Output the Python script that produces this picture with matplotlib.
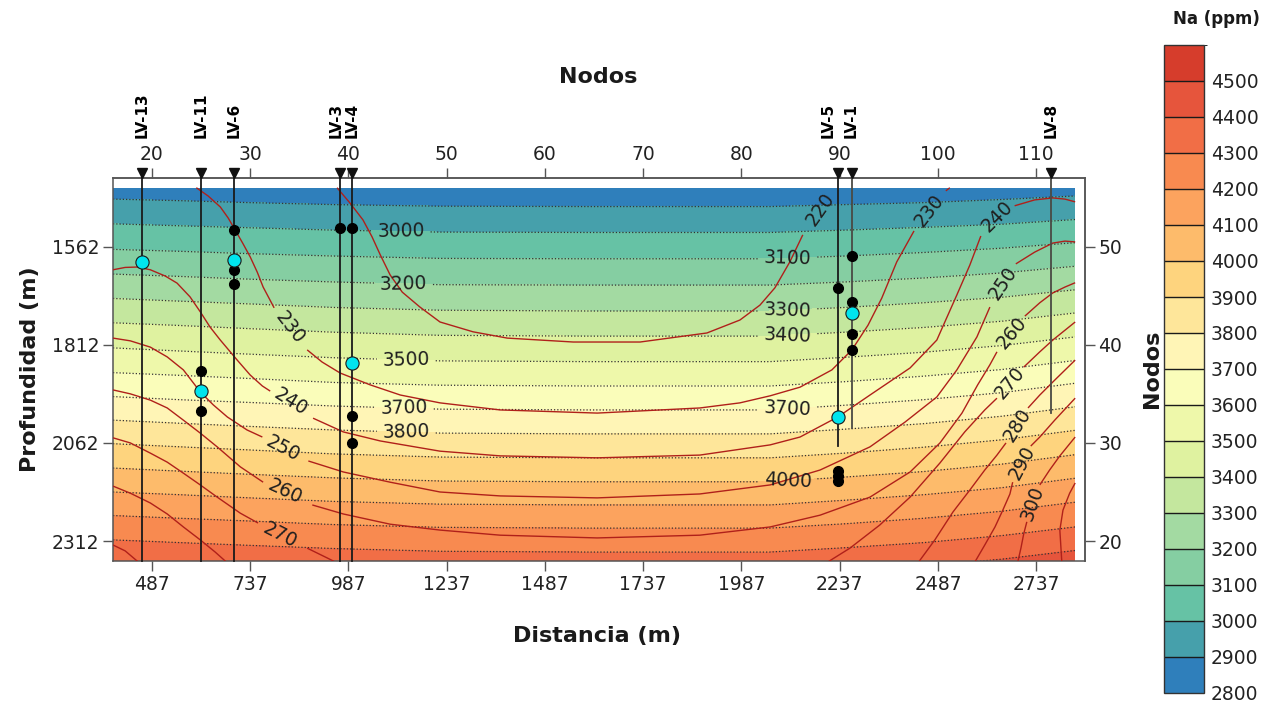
import numpy as np
import matplotlib
matplotlib.use("Agg")
import matplotlib.pyplot as plt
from matplotlib.colors import ListedColormap, BoundaryNorm
from matplotlib.patches import Rectangle

# --- Na (ppm): depth of every 100 ppm isoline at stations along the section ---
na_levels = [2800, 2900, 3000, 3100, 3200, 3300, 3400, 3500, 3600,
             3700, 3800, 3900, 4000, 4100, 4200, 4300, 4400, 4500]
na_stations = [388, 560, 737, 950, 1220, 1600, 2059, 2250, 2450, 2650, 2836]
na_depths = [
    [1375, 1379, 1384, 1389, 1393, 1394, 1394, 1390, 1385, 1378, 1369],
    [1441, 1445, 1450, 1455, 1459, 1460, 1460, 1455, 1450, 1442, 1433],
    [1504, 1509, 1514, 1520, 1525, 1526, 1526, 1520, 1513, 1505, 1493],
    [1569, 1574, 1580, 1586, 1592, 1593, 1593, 1586, 1577, 1566, 1552],
    [1632, 1638, 1645, 1652, 1659, 1660, 1660, 1652, 1642, 1629, 1612],
    [1694, 1701, 1708, 1717, 1724, 1726, 1726, 1717, 1705, 1691, 1672],
    [1756, 1763, 1771, 1780, 1788, 1790, 1790, 1780, 1768, 1752, 1731],
    [1820, 1828, 1836, 1845, 1853, 1855, 1855, 1844, 1831, 1814, 1792],
    [1883, 1890, 1898, 1908, 1915, 1917, 1917, 1906, 1892, 1875, 1852],
    [1944, 1952, 1959, 1968, 1976, 1978, 1978, 1966, 1952, 1934, 1910],
    [2004, 2012, 2020, 2029, 2037, 2039, 2039, 2027, 2013, 1994, 1970],
    [2064, 2072, 2080, 2090, 2098, 2100, 2100, 2088, 2073, 2054, 2030],
    [2126, 2134, 2142, 2151, 2159, 2161, 2161, 2149, 2135, 2116, 2092],
    [2187, 2194, 2202, 2211, 2218, 2220, 2220, 2208, 2194, 2176, 2152],
    [2247, 2254, 2261, 2270, 2277, 2279, 2279, 2268, 2254, 2236, 2213],
    [2309, 2316, 2323, 2331, 2338, 2340, 2340, 2329, 2316, 2298, 2276],
    [2369, 2376, 2383, 2391, 2398, 2400, 2400, 2389, 2376, 2358, 2336],
    [2429, 2436, 2443, 2451, 2458, 2460, 2460, 2449, 2436, 2418, 2396],
]
na_line_levels = [2900, 3000, 3100, 3200, 3300, 3400, 3500, 3600, 3700,
                  3800, 3900, 4000, 4100, 4200, 4300, 4400]
# where the Na labels sit (distance, depth)
na_label_pos = [(1121, 1526), (1127, 1660), (1134, 1855), (1129, 1978), (1134, 2039),
                (2105, 1591), (2105, 1724), (2105, 1788), (2105, 1976), (2105, 2159)]

cbar_bounds = [2800, 2900, 3000, 3100, 3200, 3300, 3400, 3500, 3600, 3700,
               3800, 3900, 4000, 4100, 4200, 4300, 4400, 4500, 4600]
cbar_ticks = cbar_bounds[:-1]
na_colors = ["#2f7fbb", "#46a0ab", "#66c2a5", "#85cea2", "#a3daa2", "#c4e79e",
             "#dff2a0", "#eef8aa", "#fafdba", "#fff5b6", "#fee69a", "#fed47e",
             "#fdbb6b", "#fca35e", "#f88a50", "#f16e46", "#e6553c", "#d63d2c"]

# --- temperature isotherms (deg C), traced as (distance, depth) segments ---
iso220 = [
    [(958, 1412), (991, 1451), (1024, 1494), (1047, 1537), (1068, 1583), (1093, 1634),
     (1124, 1678), (1169, 1716), (1220, 1754), (1304, 1779), (1391, 1795), (1559, 1805),
     (1729, 1805), (1899, 1782), (1983, 1749), (2034, 1711), (2072, 1667), (2110, 1601),
     (2143, 1532)],
]
iso230 = [
    [(600, 1412), (630, 1433), (661, 1461), (681, 1489), (699, 1520), (719, 1555),
     (737, 1588), (755, 1627), (770, 1665), (798, 1718)],
    [(882, 1825), (920, 1856), (966, 1884), (1042, 1914), (1119, 1940), (1220, 1960),
     (1373, 1978), (1620, 1986), (1881, 1973), (1983, 1960), (2060, 1942), (2136, 1920),
     (2217, 1876), (2268, 1825), (2309, 1762), (2344, 1693), (2382, 1601), (2426, 1522)],
    [(2507, 1420), (2517, 1412)],
]
iso240 = [
    [(388, 1621), (419, 1615), (450, 1614), (483, 1621), (521, 1637), (551, 1655),
     (584, 1690), (610, 1728), (635, 1767), (661, 1800), (704, 1851), (737, 1889),
     (768, 1917), (788, 1930)],
    [(897, 1999), (974, 2034), (1068, 2057), (1220, 2083), (1373, 2095), (1620, 2100),
     (1881, 2093), (2060, 2067), (2136, 2047), (2232, 1996), (2314, 1940), (2416, 1871),
     (2484, 1800), (2535, 1685), (2568, 1609), (2596, 1535)],
    [(2682, 1458), (2733, 1443), (2779, 1438), (2810, 1441), (2836, 1448)],
]
iso250 = [
    [(388, 1795), (432, 1802), (483, 1818), (526, 1843), (567, 1876), (610, 1932),
     (643, 1965), (679, 1996), (729, 2029), (768, 2047)],
    [(885, 2108), (974, 2136), (1093, 2162), (1220, 2187), (1373, 2197), (1620, 2202),
     (1881, 2192), (2060, 2169), (2187, 2131), (2314, 2072), (2403, 2009), (2484, 1945),
     (2535, 1876), (2586, 1792), (2619, 1716)],
    [(2685, 1606), (2733, 1576), (2779, 1553), (2810, 1548), (2836, 1550)],
]
iso260 = [
    [(388, 1927), (432, 1937), (483, 1953), (526, 1973), (567, 2004), (610, 2037),
     (653, 2072), (712, 2123), (770, 2162)],
    [(895, 2220), (974, 2243), (1093, 2269), (1220, 2284), (1373, 2297), (1620, 2304),
     (1881, 2297), (2060, 2276), (2187, 2246), (2314, 2200), (2416, 2136), (2492, 2062),
     (2548, 1986), (2588, 1914), (2619, 1863), (2637, 1830)],
    [(2708, 1739), (2746, 1705), (2779, 1680), (2810, 1665), (2836, 1654)],
]
iso270 = [
    [(388, 2049), (432, 2062), (483, 2088), (526, 2111), (567, 2139), (610, 2169),
     (653, 2200), (712, 2241), (757, 2266)],
    [(882, 2330), (933, 2355), (953, 2365)],
    [(2207, 2365), (2263, 2330), (2339, 2271), (2416, 2200), (2492, 2113), (2555, 2034),
     (2606, 1978), (2637, 1948)],
    [(2705, 1869), (2746, 1830), (2779, 1800), (2836, 1754)],
]
iso280 = [
    [(388, 2172), (432, 2190), (483, 2215), (526, 2243), (567, 2276), (610, 2309),
     (648, 2340), (676, 2365)],
    [(2438, 2365), (2479, 2309), (2525, 2238), (2568, 2182), (2606, 2131), (2637, 2093),
     (2660, 2062)],
    [(2716, 1973), (2746, 1940), (2784, 1902), (2836, 1851)],
]
iso290 = [
    [(388, 2322), (419, 2337), (452, 2365)],
    [(2581, 2365), (2606, 2322), (2632, 2276), (2652, 2233), (2670, 2192), (2677, 2162)],
    [(2723, 2070), (2746, 2047), (2784, 2004), (2836, 1948)],
]
iso300 = [
    [(2690, 2365), (2698, 2330), (2705, 2294), (2713, 2263)],
    [(2746, 2169), (2771, 2131), (2797, 2095), (2836, 2047)],
]
iso310 = [
    [(2802, 2365), (2797, 2284), (2805, 2233), (2822, 2190), (2836, 2164)],
]
isotherms = [iso220, iso230, iso240, iso250, iso260, iso270, iso280, iso290, iso300, iso310]

# (value, distance, depth, angle)
t_labels = [(220, 2187, 1466, 55), (230, 839, 1769, -52), (230, 2466, 1469, 52),
            (240, 839, 1958, -32), (240, 2637, 1486, 45), (250, 821, 2075, -28),
            (250, 2652, 1655, 56), (260, 826, 2187, -25), (260, 2675, 1782, 50),
            (270, 813, 2297, -27), (270, 2670, 1909, 50), (280, 2688, 2016, 58),
            (290, 2700, 2113, 62), (300, 2728, 2215, 70)]

# --- wells ---
well_names = ["LV-13", "LV-11", "LV-6", "LV-3", "LV-4", "LV-5", "LV-1", "LV-8"]
well_x = [462, 612, 697, 966, 996, 2233, 2267, 2774]
well_bottom = [2362, 2362, 2362, 2362, 2362, 2070, 2023, 1986]
well_colors = ["#1a1a1a"] * 6 + ["#4a4a44", "#4a4a44"]
well_label_shift = [0, 0, 0, -3, 0, -7, 0, 0]

black_x = [612, 612, 697, 697, 697, 966, 996, 996, 996, 2233, 2233, 2233, 2233,
           2267, 2267, 2267, 2267]
black_z = [1880, 1980, 1519, 1621, 1657, 1515, 1515, 1993, 2061, 1668, 2134, 2147, 2160,
           1587, 1702, 1784, 1825]
cyan_x = [462, 612, 697, 996, 2233, 2267]
cyan_z = [1600, 1931, 1596, 1858, 1995, 1730]

x_ticks = [487, 737, 987, 1237, 1487, 1737, 1987, 2237, 2487, 2737]
y_ticks = [1562, 1812, 2062, 2312]
top_node_ticks = [20, 30, 40, 50, 60, 70, 80, 90, 100, 110]
right_node_ticks = [20, 30, 40, 50]

fig = plt.figure(figsize=(12.75, 7.05), dpi=100)
ax = fig.add_axes([113 / 1275, 1 - 560.7 / 705, 972 / 1275, 382.4 / 705])

cmap = ListedColormap(na_colors)
norm = BoundaryNorm(cbar_bounds, cmap.N)

X = np.tile(np.array(na_stations, float), (len(na_levels), 1))
Y = np.array(na_depths, float)
Z = np.repeat(np.array(na_levels, float)[:, None], len(na_stations), axis=1)

clip = Rectangle((388, 1412), 2836 - 388, 2362 - 1412, transform=ax.transData)
cf = ax.contourf(X, Y, Z, levels=cbar_bounds, cmap=cmap, norm=norm, zorder=1)
cf.set_clip_path(clip)
cl = ax.contour(X, Y, Z, levels=na_line_levels, colors="#333333",
                linewidths=0.9, linestyles=[(0, (1, 1.6))], zorder=2)
cl.set_clip_path(clip)
ax.clabel(cl, manual=na_label_pos, inline=True, inline_spacing=6,
          fontsize=13.5, fmt="%d", colors="#1f1f1f")

for iso in isotherms:
    for seg in iso:
        xs = [p[0] for p in seg]
        zs = [p[1] for p in seg]
        ax.plot(xs, zs, color="#b0201a", lw=1.0, zorder=3, solid_capstyle="butt")
for val, lx, lz, ang in t_labels:
    ax.text(lx, lz, str(val), fontsize=13.5, color="#1f1f1f", rotation=ang,
            rotation_mode="anchor", ha="center", va="center", zorder=6)

for name, wx, wb, wc, sh in zip(well_names, well_x, well_bottom, well_colors, well_label_shift):
    ax.plot([wx, wx], [1374, wb], color=wc, lw=1.3, zorder=4, clip_on=False)
    ax.plot([wx], [1374], marker="v", color="#111111", ms=7, zorder=5, clip_on=False)
    ax.annotate(name, xy=(wx, 1.105), xycoords=ax.get_xaxis_transform(),
                xytext=(sh, 0), textcoords="offset points", rotation=90,
                ha="center", va="bottom", fontsize=11, fontweight="bold",
                annotation_clip=False)

ax.plot(black_x, black_z, "o", color="black", ms=7, zorder=7, ls="none")
ax.plot(cyan_x, cyan_z, "o", mfc="#00e5ee", mec="#1a1a1a", mew=0.8, ms=9.5, zorder=8, ls="none")

ax.set_xlim(388, 2861)
ax.set_ylim(2362, 1388)
ax.set_xticks(x_ticks)
ax.set_yticks(y_ticks)
ax.tick_params(direction="out", length=7.5, width=1.0, color="#555555",
               labelsize=13.5, labelcolor="#222222", pad=2.5)
for sp in ax.spines.values():
    sp.set_color("#555555")
    sp.set_linewidth(1.1)

top = ax.secondary_xaxis("top", functions=(lambda d: 20 + (d - 487) / 25.0,
                                          lambda n: 487 + 25.0 * (n - 20)))
top.set_xticks(top_node_ticks)
top.tick_params(direction="out", length=7.5, width=1.0, color="#555555",
                labelsize=13.5, labelcolor="#222222", pad=3)
right = ax.secondary_yaxis("right", functions=(lambda z: 50 - (z - 1562) / 25.0,
                                              lambda n: 1562 + 25.0 * (50 - n)))
right.set_yticks(right_node_ticks)
right.tick_params(direction="out", length=7.5, width=1.0, color="#555555",
                  labelsize=13.5, labelcolor="#222222", pad=2)
for sec in (top, right):
    for sp in sec.spines.values():
        sp.set_color("#555555")
        sp.set_linewidth(1.1)

fig.text(30 / 1275, 1 - 369 / 705, "Profundidad (m)", rotation=90, ha="center", va="center",
         fontsize=16, fontweight="bold", color="#1a1a1a")
fig.text(597 / 1275, 1 - 636 / 705, "Distancia (m)", ha="center", va="center",
         fontsize=16, fontweight="bold", color="#1a1a1a")
fig.text(598 / 1275, 1 - 77 / 705, "Nodos", ha="center", va="center",
         fontsize=16, fontweight="bold", color="#1a1a1a")
fig.text(1152 / 1275, 1 - 369 / 705, "Nodos", rotation=90, ha="center", va="center",
         fontsize=16, fontweight="bold", color="#1a1a1a")

cax = fig.add_axes([1164 / 1275, 12 / 705, 40 / 1275, 648 / 705])
sm = plt.cm.ScalarMappable(norm=norm, cmap=cmap)
cb = fig.colorbar(sm, cax=cax, drawedges=True, ticks=cbar_ticks)
cb.outline.set_edgecolor("#333333")
cb.outline.set_linewidth(1.0)
cb.dividers.set_color("#1a1a1a")
cb.dividers.set_linewidth(1.0)
cax.tick_params(length=0, labelsize=13.5, labelcolor="#222222", pad=5)
fig.text(1216 / 1275, 1 - 19 / 705, "Na (ppm)", ha="center", va="center",
         fontsize=12, fontweight="bold", color="#1a1a1a")

fig.savefig("out.png", dpi=100)
